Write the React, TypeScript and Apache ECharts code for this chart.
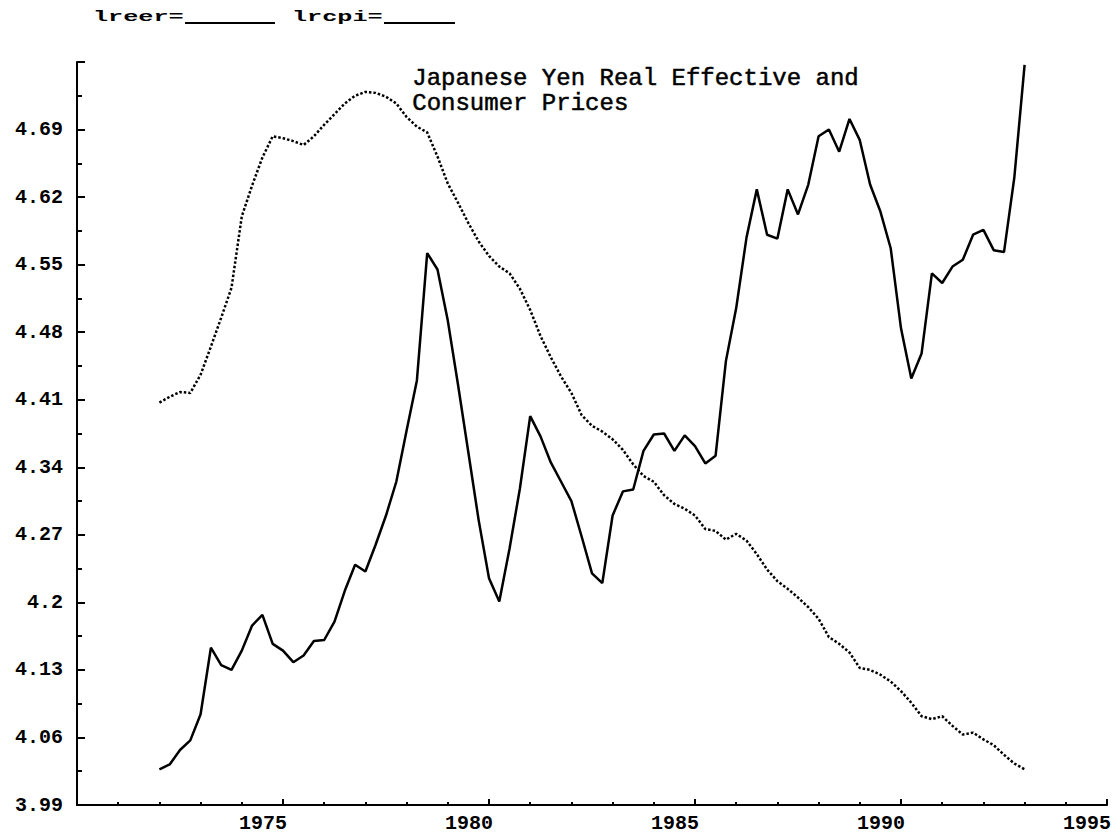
import React, { useEffect, useRef } from "react";
import * as echarts from "echarts";

// Quarterly observations, first quarter of 1972 onward
const START_YEAR = 1972;
const PERIODS_PER_YEAR = 4;

const lreer = [
  4.027, 4.032, 4.047, 4.057, 4.084, 4.153, 4.135, 4.130, 4.150, 4.176,
  4.187, 4.157, 4.150, 4.138, 4.145, 4.160, 4.161, 4.180, 4.212, 4.239,
  4.232, 4.260, 4.290, 4.325, 4.378, 4.430, 4.562, 4.545, 4.492, 4.425,
  4.355, 4.285, 4.225, 4.201, 4.256, 4.318, 4.393, 4.372, 4.345, 4.325,
  4.305, 4.268, 4.230, 4.220, 4.290, 4.315, 4.317, 4.357, 4.374, 4.375,
  4.357, 4.373, 4.362, 4.344, 4.352, 4.450, 4.505, 4.578, 4.628, 4.581,
  4.577, 4.628, 4.602, 4.633, 4.683, 4.690, 4.667, 4.701, 4.679, 4.633,
  4.605, 4.567, 4.484, 4.432, 4.458, 4.541, 4.531, 4.548, 4.555, 4.581,
  4.586, 4.565, 4.563, 4.640, 4.757,
];

const lrcpi = [
  4.407, 4.413, 4.418, 4.417, 4.436, 4.465, 4.495, 4.526, 4.600, 4.632,
  4.661, 4.683, 4.681, 4.678, 4.674, 4.683, 4.695, 4.706, 4.717, 4.725,
  4.729, 4.728, 4.724, 4.717, 4.703, 4.693, 4.687, 4.662, 4.634, 4.614,
  4.593, 4.574, 4.559, 4.548, 4.541, 4.525, 4.503, 4.476, 4.454, 4.434,
  4.417, 4.394, 4.383, 4.377, 4.369, 4.358, 4.343, 4.331, 4.325, 4.311,
  4.302, 4.297, 4.290, 4.276, 4.274, 4.265, 4.271, 4.264, 4.250, 4.234,
  4.222, 4.214, 4.205, 4.195, 4.183, 4.164, 4.157, 4.148, 4.132, 4.130,
  4.125, 4.118, 4.108, 4.096, 4.082, 4.079, 4.082, 4.072, 4.063, 4.065,
  4.058, 4.052, 4.042, 4.033, 4.027,
];

const dates = lreer.map((_, i) => START_YEAR + i / PERIODS_PER_YEAR);

const xTickLabels = ["1975", "1980", "1985", "1990", "1995"];
const X_MIN = 1970;
const X_MAX = 1995;
const X_STEP = 5;
const Y_MIN = 3.99;
const Y_MAX = 4.76;
const Y_STEP = 0.07;
const yHiddenLabels = ["4.76"];

const titleLines = ["Japanese Yen Real Effective and", "Consumer Prices"];
const legendNames = ["lreer", "lrcpi"];

const MONO = '"Liberation Mono", "DejaVu Sans Mono", monospace';

export default function App() {
  const ref = useRef<HTMLDivElement>(null);

  useEffect(() => {
    if (!ref.current) return;
    const chart = echarts.init(ref.current, undefined, { renderer: "svg" });

    const axisLabelStyle = {
      color: "#000",
      fontFamily: MONO,
      fontWeight: "bold" as const,
      fontSize: 20,
    };

    chart.setOption({
      animation: false,
      backgroundColor: "#fff",
      grid: { left: 77, right: 13, top: 62, bottom: 29, containLabel: false },
      xAxis: {
        type: "value",
        min: X_MIN,
        max: X_MAX,
        interval: X_STEP,
        axisLine: { show: true, lineStyle: { color: "#000", width: 2 } },
        axisTick: { show: true, inside: true, length: 6, lineStyle: { color: "#000", width: 2 } },
        minorTick: { show: true, splitNumber: 5, length: 3, lineStyle: { color: "#000", width: 2 } },
        splitLine: { show: false },
        minorSplitLine: { show: false },
        axisLabel: {
          ...axisLabelStyle,
          margin: 8,
          padding: [0, 40, 0, 0],
          formatter: (v: number) => {
            const s = String(Math.round(v));
            return xTickLabels.includes(s) ? s : "";
          },
        },
      },
      yAxis: {
        type: "value",
        min: Y_MIN,
        max: Y_MAX,
        interval: Y_STEP,
        axisLine: { show: true, lineStyle: { color: "#000", width: 2 } },
        axisTick: { show: true, inside: true, length: 8, lineStyle: { color: "#000", width: 2 } },
        minorTick: { show: true, splitNumber: 2, length: 5, lineStyle: { color: "#000", width: 2 } },
        splitLine: { show: false },
        minorSplitLine: { show: false },
        axisLabel: {
          ...axisLabelStyle,
          margin: 14,
          formatter: (v: number) => {
            const s = String(Number(v.toFixed(2)));
            return yHiddenLabels.includes(s) ? "" : s;
          },
        },
      },
      series: [
        {
          name: legendNames[0],
          type: "line",
          data: dates.map((d, i) => [d, lreer[i]]),
          showSymbol: false,
          lineStyle: { color: "#000", width: 2.5, type: "solid" },
          z: 3,
        },
        {
          name: legendNames[1],
          type: "line",
          data: dates.map((d, i) => [d, lrcpi[i]]),
          showSymbol: false,
          lineStyle: { color: "#000", width: 2.5, type: [2.5, 2] },
          z: 2,
        },
      ],
      graphic: [
        {
          type: "text",
          left: 412,
          top: 66,
          style: {
            text: titleLines.join("\n"),
            font: `normal 24px ${MONO}`,
            lineHeight: 25,
            fill: "#000",
            stroke: "#000",
            lineWidth: 0.5,
          },
        },
        {
          type: "text",
          x: 93,
          y: 10,
          scaleX: 1.8,
          style: {
            text: legendNames[0] + "=",
            font: `bold 14px ${MONO}`,
            fill: "#000",
          },
        },
        {
          type: "line",
          shape: { x1: 185, y1: 23, x2: 275, y2: 23 },
          style: { stroke: "#000", lineWidth: 2 },
        },
        {
          type: "text",
          x: 292,
          y: 10,
          scaleX: 1.8,
          style: {
            text: legendNames[1] + "=",
            font: `bold 14px ${MONO}`,
            fill: "#000",
          },
        },
        {
          type: "line",
          shape: { x1: 384, y1: 23, x2: 455, y2: 23 },
          style: { stroke: "#000", lineWidth: 2 },
        },
      ],
    });

    return () => chart.dispose();
  }, []);

  return (
    <div
      ref={ref}
      style={{ position: "fixed", left: 0, top: 0, width: 1120, height: 834, background: "#fff" }}
    />
  );
}
